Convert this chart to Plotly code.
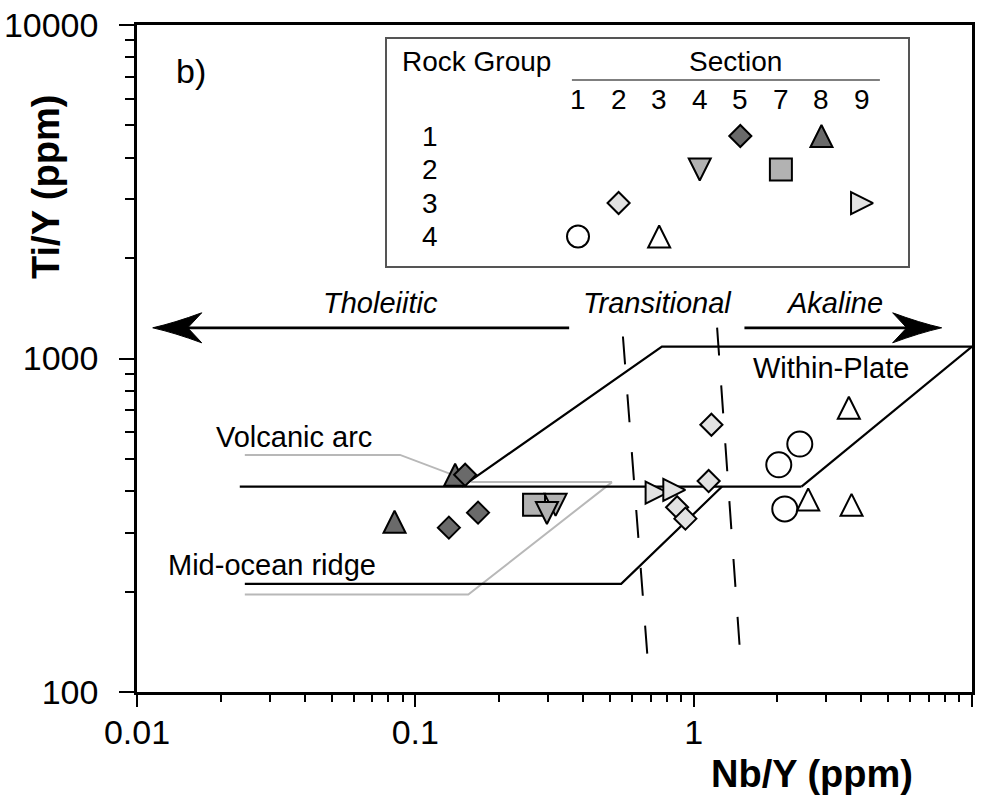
import plotly.graph_objects as go

# ---------------- data (Nb/Y, Ti/Y) ----------------
# Group 1 (dark grey)
g1_s5_nby = [0.151, 0.168, 0.132]
g1_s5_tiy = [448, 345, 311]
g1_s8_nby = [0.0842, 0.139]
g1_s8_tiy = [324, 448]
# Group 2 (mid grey)
g2_s7_nby = [0.267]
g2_s7_tiy = [364]
g2_s4_nby = [0.319, 0.297]
g2_s4_tiy = [364, 344]
# Group 3 (light grey)
g3_s9_nby = [0.736, 0.852]
g3_s9_tiy = [396, 404]
g3_s2_nby = [1.158, 1.132, 0.872, 0.934]
g3_s2_tiy = [633, 429, 358, 331]
# Group 4 (white)
g4_s1_nby = [2.406, 2.022, 2.125]
g4_s1_tiy = [554, 480, 354]
g4_s3_nby = [3.61, 2.579, 3.692]
g4_s3_tiy = [712, 378, 364]

# discrimination boundaries
tw_line_x = [0.0234, 2.44]
tw_line_y = [413, 413]
wp_upper_x = [0.147, 0.769, 10]
wp_upper_y = [413, 1086, 1086]
wp_right_x = [2.44, 10]
wp_right_y = [413, 1086]
morb_x = [0.0244, 0.549, 1.265]
morb_y = [211, 211, 413]
arc_grey_x = [0.0244, 0.0881, 0.16, 0.509]
arc_grey_y = [514, 514, 426, 426]
morb_grey_x = [0.509, 0.155, 0.0244]
morb_grey_y = [426, 196, 196]
dash_left_x = [0.557, 0.683]
dash_left_y = [1164, 126.5]
dash_right_x = [1.214, 1.464]
dash_right_y = [1238, 135.6]
arrow_y = 1236
arrow_left_x = [0.357, 0.0125]
arrow_right_x = [1.522, 7.2]
arrow_left_tip = 0.01139
arrow_right_tip = 7.78

# legend grid
sections = ["1", "2", "3", "4", "5", "7", "8", "9"]
rock_groups = ["1", "2", "3", "4"]
legend_entries = [  # (section, group, symbol, colour)
    ("5", 1, "diamond", "dark"), ("8", 1, "tri_up", "dark"),
    ("4", 2, "tri_down", "mid"), ("7", 2, "square", "mid"),
    ("2", 3, "diamond", "light"), ("9", 3, "tri_right", "light"),
    ("1", 4, "circle", "white"), ("3", 4, "tri_up", "white"),
]

# ---------------- style ----------------
COL = {"dark": "#6a6a6a", "mid": "#b2b2b2", "light": "#e2e2e2", "white": "#ffffff"}
# plotly symbol, angle, size
SYM = {
    "diamond": ("diamond", 0, 17),
    "square": ("square", 0, 22),
    "circle": ("circle", 0, 24),
    "tri_up": ("arrow-down", 180, 22),
    "tri_down": ("arrow-down", 0, 22),
    "tri_right": ("arrow-down", -90, 22),
}
FONT = "Liberation Sans, Arial, sans-serif"

W, H = 990, 796
ML, MR, MT, MB = 137, 18, 25, 104
PW, PH = W - ML - MR, H - MT - MB


def px(xp):
    return (xp - ML) / PW


def py(yp):
    return (H - MB - yp) / PH


fig = go.Figure()


def line(x, y, color="black", width=2.2, dash=None):
    fig.add_trace(go.Scatter(x=x, y=y, mode="lines", hoverinfo="skip", showlegend=False,
                             line=dict(color=color, width=width, dash=dash)))


line(arc_grey_x, arc_grey_y, "#b8b8b8", 2)
line(morb_grey_x, morb_grey_y, "#b8b8b8", 2)
line(tw_line_x, tw_line_y)
line(wp_upper_x, wp_upper_y)
line(wp_right_x, wp_right_y)
line(morb_x, morb_y)
line(dash_left_x, dash_left_y, width=2, dash="28px,30px")
line(dash_right_x, dash_right_y, width=2, dash="28px,30px")
line(arrow_left_x, [arrow_y, arrow_y], width=2.8)
line(arrow_right_x, [arrow_y, arrow_y], width=2.8)


def pts(x, y, kind, colour, size=None, xa="x", ya="y"):
    sym, ang, sz = SYM[kind]
    sz = size or sz
    mk = dict(symbol=sym, size=sz, color=COL[colour], angle=ang,
              line=dict(color="black", width=2))
    if sym.startswith("arrow"):
        mk["standoff"] = sz / 2
    fig.add_trace(go.Scatter(x=x, y=y, mode="markers", showlegend=False, xaxis=xa,
                             yaxis=ya, marker=mk))


pts(g1_s8_nby, g1_s8_tiy, "tri_up", "dark")
pts(g1_s5_nby, g1_s5_tiy, "diamond", "dark")
pts(g2_s7_nby, g2_s7_tiy, "square", "mid")
pts(g2_s4_nby, g2_s4_tiy, "tri_down", "mid")
pts(g3_s9_nby, g3_s9_tiy, "tri_right", "light")
pts(g3_s2_nby, g3_s2_tiy, "diamond", "light")
pts(g4_s1_nby, g4_s1_tiy, "circle", "white", 25)
pts(g4_s3_nby, g4_s3_tiy, "tri_up", "white")

# legend inset (x2 / y2 : column index / rock group)
for sec, grp, kind, col in legend_entries:
    pts([sections.index(sec)], [grp], kind, col,
        size=22 if kind == "circle" else None, xa="x2", ya="y2")
fig.add_trace(go.Scatter(x=[-0.15, 7.44], y=[-0.672, -0.672], xaxis="x2", yaxis="y2",
                         mode="lines", line=dict(color="#555555", width=1.5),
                         hoverinfo="skip", showlegend=False))

ann = []
tf = dict(family=FONT, size=28, color="black")
C = dict(xanchor="center", yanchor="middle", showarrow=False)
ann.append(dict(x=-2.49, y=-1.21, xref="x2", yref="y2", text="Rock Group", font=tf, **C))
ann.append(dict(x=3.89, y=-1.21, xref="x2", yref="y2", text="Section", font=tf, **C))
for i, s in enumerate(sections):
    ann.append(dict(x=i, y=-0.104, xref="x2", yref="y2", text=s, font=tf, **C))
for g in rock_groups:
    ann.append(dict(x=-3.65, y=int(g), xref="x2", yref="y2", text=g, font=tf, **C))

lf = dict(family=FONT, size=29, color="black")
for txt, xp, yp in [("<i>Tholeiitic</i>", 380, 303), ("<i>Transitional</i>", 657, 303),
                    ("<i>Akaline</i>", 834, 303), ("Within-Plate", 831, 368),
                    ("Volcanic arc", 294, 437), ("Mid-ocean ridge", 272, 565)]:
    ann.append(dict(x=px(xp), y=py(yp), xref="paper", yref="paper", text=txt, font=lf, **C))
ann.append(dict(x=px(191), y=py(71), xref="paper", yref="paper", text="b)",
                font=dict(family=FONT, size=34, color="black"), **C))
ann.append(dict(x=px(812), y=py(774), xref="paper", yref="paper", text="<b>Nb/Y (ppm)</b>",
                font=dict(family=FONT, size=38, color="black"), **C))
ann.append(dict(x=px(46), y=py(187), xref="paper", yref="paper", text="<b>Ti/Y (ppm)</b>",
                textangle=-90, font=dict(family=FONT, size=38, color="black"), **C))

shapes = [
    dict(type="path", xref="x", yref="y", xsizemode="pixel", ysizemode="pixel",
         xanchor=arrow_left_tip, yanchor=arrow_y,
         path="M0,0 Q22,5 49,15 L35,0 L49,-15 Q22,-5 0,0 Z",
         fillcolor="black", line=dict(color="black", width=1)),
    dict(type="path", xref="x", yref="y", xsizemode="pixel", ysizemode="pixel",
         xanchor=arrow_right_tip, yanchor=arrow_y,
         path="M0,0 Q-22,5 -49,15 L-35,0 L-49,-15 Q-22,-5 0,0 Z",
         fillcolor="black", line=dict(color="black", width=1)),
]

minor_x = [m * 10 ** e for e in (-2, -1, 0) for m in range(2, 10)]
minor_y = [m * 10 ** e for e in (2, 3) for m in range(2, 10)]
tickfont = dict(family=FONT, size=34, color="black")

fig.update_layout(
    width=W, height=H, margin=dict(l=ML, r=MR, t=MT, b=MB),
    paper_bgcolor="white", plot_bgcolor="white",
    annotations=ann, shapes=shapes,
    xaxis=dict(type="log", range=[-2, 1], showline=True, mirror=True, linecolor="black",
               linewidth=2.5, ticks="outside", ticklen=12, tickwidth=2, tickcolor="black",
               tickvals=[0.01, 0.1, 1, 10], ticktext=["0.01", "0.1", "1", "10"],
               minor=dict(tickvals=minor_x, ticks="outside", ticklen=7, tickwidth=2,
                          tickcolor="black", showgrid=False),
               showgrid=False, zeroline=False, tickfont=tickfont, ticklabelstandoff=-4,
               automargin=False),
    yaxis=dict(type="log", range=[2, 4], showline=True, mirror=True, linecolor="black",
               linewidth=2.5, ticks="outside", ticklen=15, tickwidth=2, tickcolor="black",
               tickvals=[100, 1000, 10000], ticktext=["100", "1000", "10000"],
               minor=dict(tickvals=minor_y, ticks="outside", ticklen=9, tickwidth=2,
                          tickcolor="black", showgrid=False),
               showgrid=False, zeroline=False, tickfont=tickfont, ticklabelstandoff=14,
               automargin=False),
    xaxis2=dict(domain=[px(387.3), px(908.3)], anchor="y2", range=[-4.70, 8.14],
                showline=True, mirror=True, linecolor="#555555", linewidth=1.5,
                showticklabels=False, ticks="", showgrid=False, zeroline=False,
                automargin=False),
    yaxis2=dict(domain=[py(266), py(39.3)], anchor="x2", range=[4.88, -1.887],
                showline=True, mirror=True, linecolor="#555555", linewidth=1.5,
                showticklabels=False, ticks="", showgrid=False, zeroline=False,
                automargin=False),
)

fig.write_html("out.html")
